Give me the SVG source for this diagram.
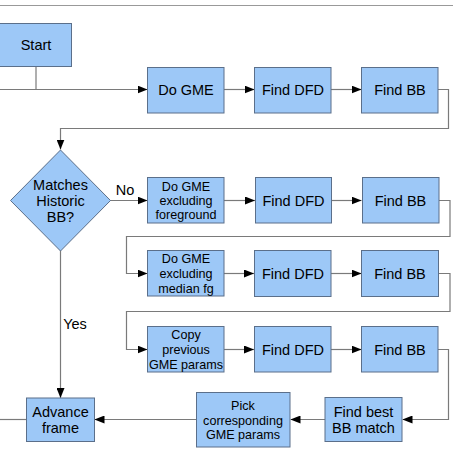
<svg xmlns="http://www.w3.org/2000/svg" width="453" height="450" viewBox="0 0 453 450">
<defs>
<marker id="ah" markerWidth="10" markerHeight="8" refX="10" refY="4" orient="auto" markerUnits="userSpaceOnUse">
<path d="M0,0 L10,4 L0,8 z" fill="#000"/>
</marker>
<style>
.box{fill:#9dc8f7;stroke:#5b6f8a;stroke-width:1}
.t{font-family:"Liberation Sans",Arial,sans-serif;fill:#000;text-anchor:middle}
.big{font-size:14.5px}
.sm{font-size:12.6px}
.c{fill:none;stroke:#7a7a7a;stroke-width:1.2}
.ca{fill:none;stroke:#7a7a7a;stroke-width:1.2;marker-end:url(#ah)}
</style>
</defs>
<rect width="453" height="450" fill="#fff"/>
<g id="header">
<line x1="0" y1="5.5" x2="453" y2="5.5" stroke="#999" stroke-width="1"/>
</g>
<g id="connectors">
<polyline class="c" points="36,66 36,89.5"/>
<polyline class="ca" points="0,89.5 147.5,89.5"/>
<polyline class="ca" points="224,89.5 254.5,89.5"/>
<polyline class="ca" points="331,89.5 361.5,89.5"/>
<polyline class="ca" points="438,89.5 448.5,89.5 448.5,128.5 60.5,128.5 60.5,149.5"/>
<polyline class="ca" points="110,200.5 147.5,200.5"/>
<polyline class="ca" points="224,200.5 255,200.5"/>
<polyline class="ca" points="331.5,200.5 361.5,200.5"/>
<polyline class="ca" points="439,200.5 450,200.5 450,236.5 126.5,236.5 126.5,273.5 147.5,273.5"/>
<polyline class="ca" points="224,273.5 254,273.5"/>
<polyline class="ca" points="331,273.5 361.5,273.5"/>
<polyline class="ca" points="438.5,273.5 450,273.5 450,311.5 126.5,311.5 126.5,349.5 147.5,349.5"/>
<polyline class="ca" points="224,349.5 254,349.5"/>
<polyline class="ca" points="331,349.5 361.5,349.5"/>
<polyline class="ca" points="438,349.5 448.5,349.5 448.5,419.5 402.5,419.5"/>
<polyline class="ca" points="325,419.5 290.5,419.5"/>
<polyline class="ca" points="196.5,419.5 94.5,419.5"/>
<polyline class="c" points="26.5,419.5 0,419.5"/>
<polyline class="ca" points="60.5,250.5 60.5,398"/>
<text class="t big" x="125" y="195">No</text>
<text class="t big" x="75" y="329">Yes</text>
</g>
<g id="start"><rect class="box" x="-0.5" y="23.5" width="72" height="43"/><text class="t big" x="36" y="50">Start</text></g>
<g id="gme1"><rect class="box" x="147.5" y="67.5" width="76.5" height="45.5"/><text class="t big" x="186" y="95">Do GME</text></g>
<g id="dfd1"><rect class="box" x="254.5" y="67.5" width="76.5" height="45.5"/><text class="t big" x="293" y="95">Find DFD</text></g>
<g id="bb1"><rect class="box" x="361.5" y="67.5" width="76.5" height="45.5"/><text class="t big" x="400" y="95">Find BB</text></g>
<g id="decision"><polygon class="box" points="60.5,150 110.5,200.5 60.5,251 10.5,200.5"/>
<text class="t big" x="60.5" y="190">Matches</text><text class="t big" x="60.5" y="206">Historic</text><text class="t big" x="60.5" y="222">BB?</text></g>
<g id="gme2"><rect class="box" x="147.5" y="177.5" width="76.5" height="45.5"/>
<text class="t sm" x="186" y="191">Do GME</text><text class="t sm" x="186" y="205">excluding</text><text class="t sm" x="186" y="219">foreground</text></g>
<g id="dfd2"><rect class="box" x="255.5" y="177.5" width="76" height="45.5"/><text class="t big" x="293.5" y="205.5">Find DFD</text></g>
<g id="bb2"><rect class="box" x="362.5" y="177.5" width="76.5" height="45.5"/><text class="t big" x="400.5" y="205.5">Find BB</text></g>
<g id="gme3"><rect class="box" x="147.5" y="250.5" width="76.5" height="45.5"/>
<text class="t sm" x="186" y="263">Do GME</text><text class="t sm" x="186" y="278">excluding</text><text class="t sm" x="186" y="292.5">median fg</text></g>
<g id="dfd3"><rect class="box" x="254.5" y="250.5" width="76.5" height="46"/><text class="t big" x="293" y="278.5">Find DFD</text></g>
<g id="bb3"><rect class="box" x="361.5" y="250.5" width="77" height="46"/><text class="t big" x="400" y="278.5">Find BB</text></g>
<g id="copy"><rect class="box" x="147.5" y="326.5" width="76.5" height="45.5"/>
<text class="t sm" x="186" y="339">Copy</text><text class="t sm" x="186" y="354">previous</text><text class="t sm" x="186" y="368.5">GME params</text></g>
<g id="dfd4"><rect class="box" x="254.5" y="326.5" width="76.5" height="45.5"/><text class="t big" x="293" y="354.5">Find DFD</text></g>
<g id="bb4"><rect class="box" x="361.5" y="326.5" width="76.5" height="45.5"/><text class="t big" x="400" y="354.5">Find BB</text></g>
<g id="bestmatch"><rect class="box" x="325" y="397.5" width="77" height="44"/>
<text class="t big" x="363.5" y="416.5">Find best</text><text class="t big" x="363.5" y="432.5">BB match</text></g>
<g id="pick"><rect class="box" x="196.5" y="392.5" width="93.5" height="54.5"/>
<text class="t sm" x="243" y="410">Pick</text><text class="t sm" x="243" y="424.5">corresponding</text><text class="t sm" x="243" y="438.5">GME params</text></g>
<g id="advance"><rect class="box" x="26.5" y="398" width="68" height="43.5"/>
<text class="t big" x="60.5" y="416.5">Advance</text><text class="t big" x="60.5" y="432.5">frame</text></g>
</svg>
